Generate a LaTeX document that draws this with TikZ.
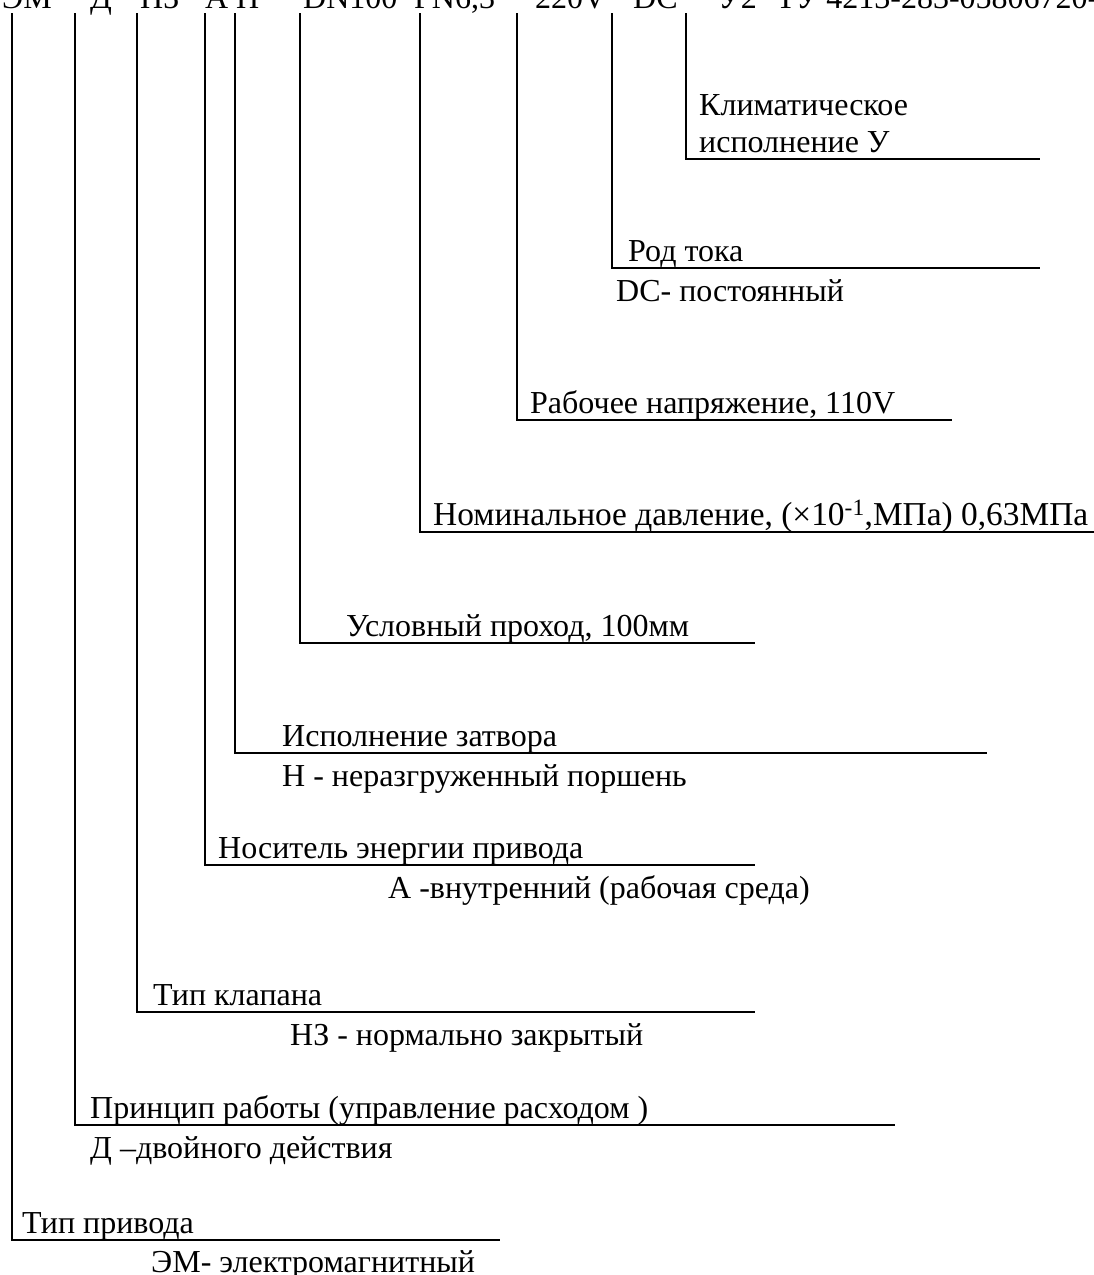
\documentclass[tikz,border=0pt]{standalone}
\usepackage{fontspec}
\setmainfont{Liberation Serif}

\begin{document}
\begin{tikzpicture}[x=1pt,y=-1pt]
% Styles
\tikzset{
    txt/.style={anchor=base west, inner sep=0pt, font=\fontsize{32}{37}\selectfont},
    lead/.style={line width=1.8pt}
}

% Frame
\useasboundingbox (0,0) rectangle (1094,1275);
\clip (0,0) rectangle (1094,1275);

% Designation (cut at the top)
\node[txt] (hEM) at (2,8){ЭМ};
\node[txt] (hD) at (90,8){Д};
\node[txt] (hNZ) at (140,8){НЗ};
\node[txt] (hA) at (205,8){А};
\node[txt] (hN) at (236,8){Н};
\node[txt] (hDN) at (303,8){DN100};
\node[txt] (hPN) at (414,8){PN6,3};
\node[txt] (hV) at (535,8){220V};
\node[txt] (hDC) at (633,8){DC};
\node[txt] (hU) at (718,8){У2};
\node[txt] (hTU) at (776,8){ТУ 4213-283-05806720-2};

% Labels
\node[txt] (klim) at (699,115){Климатическое};
\node[txt] (klimU) at (699,152){исполнение У};
\node[txt] (rod) at (628,261){Род тока};
\node[txt] (rodDC) at (616,301){DC- постоянный};
\node[txt] (nap) at (530,413){Рабочее напряжение, 110V};
\node[txt, font=\fontsize{33.4}{37}\selectfont] (dav) at (433,525){Номинальное давление, (×10\textsuperscript{-1},МПа) 0,63МПа};
\node[txt] (prox) at (346,636){Условный проход, 100мм};
\node[txt] (zatv) at (282,746){Исполнение затвора};
\node[txt] (zatvN) at (282,786){Н - неразгруженный поршень};
\node[txt] (nos) at (218,858){Носитель энергии привода};
\node[txt] (nosA) at (388,898){А -внутренний (рабочая среда)};
\node[txt] (klap) at (153,1005){Тип клапана};
\node[txt] (klapNZ) at (290,1045){НЗ - нормально закрытый};
\node[txt] (princ) at (90,1118){Принцип работы (управление расходом )};
\node[txt] (princD) at (90,1158){Д –двойного действия};
\node[txt] (priv) at (22,1233){Тип привода};
\node[txt] (privEM) at (151,1272){ЭМ- электромагнитный};

% Leads
\coordinate (tEM) at (12,13);
\coordinate (tD) at (75,13);
\coordinate (tNZ) at (137,13);
\coordinate (tA) at (205,13);
\coordinate (tN) at (235,13);
\coordinate (tDN) at (300,13);
\coordinate (tPN) at (420,13);
\coordinate (tV) at (517,13);
\coordinate (tDC) at (612,13);
\coordinate (tU) at (686,13);

\coordinate (eU) at (1040,159);
\coordinate (eDC) at (1040,268);
\coordinate (eV) at (952,420);
\coordinate (ePN) at (1100,532);
\coordinate (eDN) at (755,643);
\coordinate (eN) at (987,753);
\coordinate (eA) at (755,865);
\coordinate (eNZ) at (755,1012);
\coordinate (eD) at (895,1125);
\coordinate (eEM) at (500,1240);

\draw[lead] (tU) |- (eU);
\draw[lead] (tDC) |- (eDC);
\draw[lead] (tV) |- (eV);
\draw[lead] (tPN) |- (ePN);
\draw[lead] (tDN) |- (eDN);
\draw[lead] (tN) |- (eN);
\draw[lead] (tA) |- (eA);
\draw[lead] (tNZ) |- (eNZ);
\draw[lead] (tD) |- (eD);
\draw[lead] (tEM) |- (eEM);

\end{tikzpicture}
\end{document}
